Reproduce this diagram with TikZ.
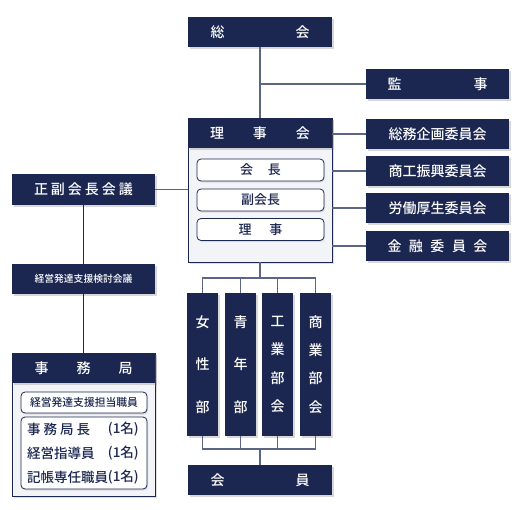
\documentclass[tikz,border=0pt]{standalone}
\usepackage{fontspec}
\setmainfont{Noto Sans CJK JP Medium}
\usetikzlibrary{shadows}
\definecolor{navy}{HTML}{1B2750}
\definecolor{linecol}{HTML}{5B6585}
\definecolor{panelbg}{HTML}{F3F4F7}
\begin{document}
\begin{tikzpicture}[x=1pt,y=-1pt,
  navybox/.style={fill=navy,text=white,inner sep=0pt,outer sep=0pt,
    drop shadow={opacity=0.3,shadow xshift=1.5pt,shadow yshift=-2pt},
    font=\fontsize{14}{16}\selectfont},
  panel/.style={fill=panelbg,draw=navy,line width=0.8pt,inner sep=0pt,outer sep=0pt,
    drop shadow={opacity=0.25,shadow xshift=1.5pt,shadow yshift=-2pt}},
  rolebox/.style={fill=white,draw=navy,line width=0.8pt,rounded corners=4pt,
    inner sep=0pt,outer sep=0pt,text=navy,
    drop shadow={opacity=0.2,shadow xshift=1pt,shadow yshift=-1.5pt}},
  stafftext/.style={text=navy,inner sep=0pt,font=\fontsize{13.5}{15}\selectfont},
  connline/.style={draw=linecol,line width=1.2pt}]
\useasboundingbox[fill=white] (0,0) rectangle (519,509);

% top
\node[navybox,minimum width=144pt,minimum height=30pt] (sokai) at (260,32) {総\hspace{71pt}会};
\node[navybox,minimum width=143pt,minimum height=30pt] (kanji) at (437.5,84) {監\hspace{72pt}事};

% riji panel
\node[panel,minimum width=144pt,minimum height=144pt] (rijipanel) at (260,190) {};
\node[navybox,minimum width=144pt,minimum height=30pt] (rijikai) at (260,133) {理\hspace{29pt}事\hspace{29pt}会};
\node[rolebox,minimum width=127pt,minimum height=22pt,font=\fontsize{13}{15}\selectfont] (kaicho) at (260.5,170) {会\hspace{15pt}長};
\node[rolebox,minimum width=127pt,minimum height=22pt,font=\fontsize{13}{15}\selectfont] (fukukaicho) at (260.5,200) {副会長};
\node[rolebox,minimum width=127pt,minimum height=22pt,font=\fontsize{13}{15}\selectfont] (riji) at (260.5,229.5) {理\hspace{18pt}事};

% committees
\node[navybox,minimum width=143pt,minimum height=30pt] (c1) at (437.5,134) {総務企画委員会};
\node[navybox,minimum width=143pt,minimum height=30pt] (c2) at (437.5,171) {商工振興委員会};
\node[navybox,minimum width=143pt,minimum height=30pt] (c3) at (437.5,208) {労働厚生委員会};
\node[navybox,minimum width=143pt,minimum height=30pt] (c4) at (437.5,246) {金\hspace{7.5pt}融\hspace{7.5pt}委\hspace{7.5pt}員\hspace{7.5pt}会};

% left side
\node[navybox,minimum width=143pt,minimum height=31pt] (seifuku) at (83.5,189.5) {正\hspace{3pt}副\hspace{3pt}会\hspace{3pt}長\hspace{3pt}会\hspace{3pt}議};
\node[navybox,minimum width=143pt,minimum height=30pt,font=\fontsize{9.8}{12}\selectfont] (kento) at (83.5,279) {経営発達支援検討会議};

% jimukyoku panel
\node[panel,minimum width=143pt,minimum height=143pt] (jimupanel) at (83.5,424.5) {};
\node[navybox,minimum width=143pt,minimum height=30pt] (jimukyoku) at (83.5,368) {事\hspace{28pt}務\hspace{28pt}局};
\node[rolebox,minimum width=126pt,minimum height=21pt,font=\fontsize{10.8}{12}\selectfont] (tanto) at (84,402.5) {経営発達支援担当職員};
\node[rolebox,minimum width=126pt,minimum height=72pt] (staffbox) at (84,453) {};
\node[stafftext,anchor=west] (s1) at (27,429) {事\hspace{3pt}務\hspace{3pt}局\hspace{3pt}長};
\node[stafftext,anchor=east] (s1n) at (139,429) {(1名)};
\node[stafftext,anchor=west] (s2) at (27,453) {経営指導員};
\node[stafftext,anchor=east] (s2n) at (139,453) {(1名)};
\node[stafftext,anchor=west] (s3) at (27,477) {記帳専任職員};
\node[stafftext,anchor=east] (s3n) at (139,477) {(1名)};

% bukai columns
\node[navybox,minimum width=31pt,minimum height=143pt,align=center,font=\fontsize{14}{42.5}\selectfont] (josei) at (202.5,364.5) {女\\性\\部};
\node[navybox,minimum width=31pt,minimum height=143pt,align=center,font=\fontsize{14}{42.5}\selectfont] (seinen) at (240.5,364.5) {青\\年\\部};
\node[navybox,minimum width=31pt,minimum height=143pt,align=center,font=\fontsize{14}{28.3}\selectfont] (kogyo) at (277.5,364.5) {工\\業\\部\\会};
\node[navybox,minimum width=31pt,minimum height=143pt,align=center,font=\fontsize{14}{28.3}\selectfont] (shogyo) at (315.5,364.5) {商\\業\\部\\会};

\node[navybox,minimum width=144pt,minimum height=30pt] (kaiin) at (260,480) {会\hspace{71pt}員};

% connectors
\coordinate (bustop) at (260,278);
\coordinate (busbot) at (260,449);
\draw[connline] (sokai.south) -- (rijikai.north);
\draw[connline] (kanji.west) -- (kanji.west -| sokai.south);
\foreach \c in {c1,c2,c3,c4} \draw[connline] (\c.west) -- (\c.west -| rijipanel.east);
\draw[connline] (seifuku.east) -- (seifuku.east -| rijipanel.west);
\draw[connline,draw=navy] (seifuku.south) -- (kento.north);
\draw[connline,draw=navy] (kento.south) -- (jimukyoku.north);
\draw[connline] (rijipanel.south) -- (bustop);
\draw[connline] (josei.north) |- (bustop) -| (shogyo.north);
\draw[connline] (seinen.north) -- (seinen.north |- bustop);
\draw[connline] (kogyo.north) -- (kogyo.north |- bustop);
\draw[connline] (josei.south) |- (busbot) -| (shogyo.south);
\draw[connline] (seinen.south) -- (seinen.south |- busbot);
\draw[connline] (kogyo.south) -- (kogyo.south |- busbot);
\draw[connline] (busbot) -- (kaiin.north);
\end{tikzpicture}
\end{document}
